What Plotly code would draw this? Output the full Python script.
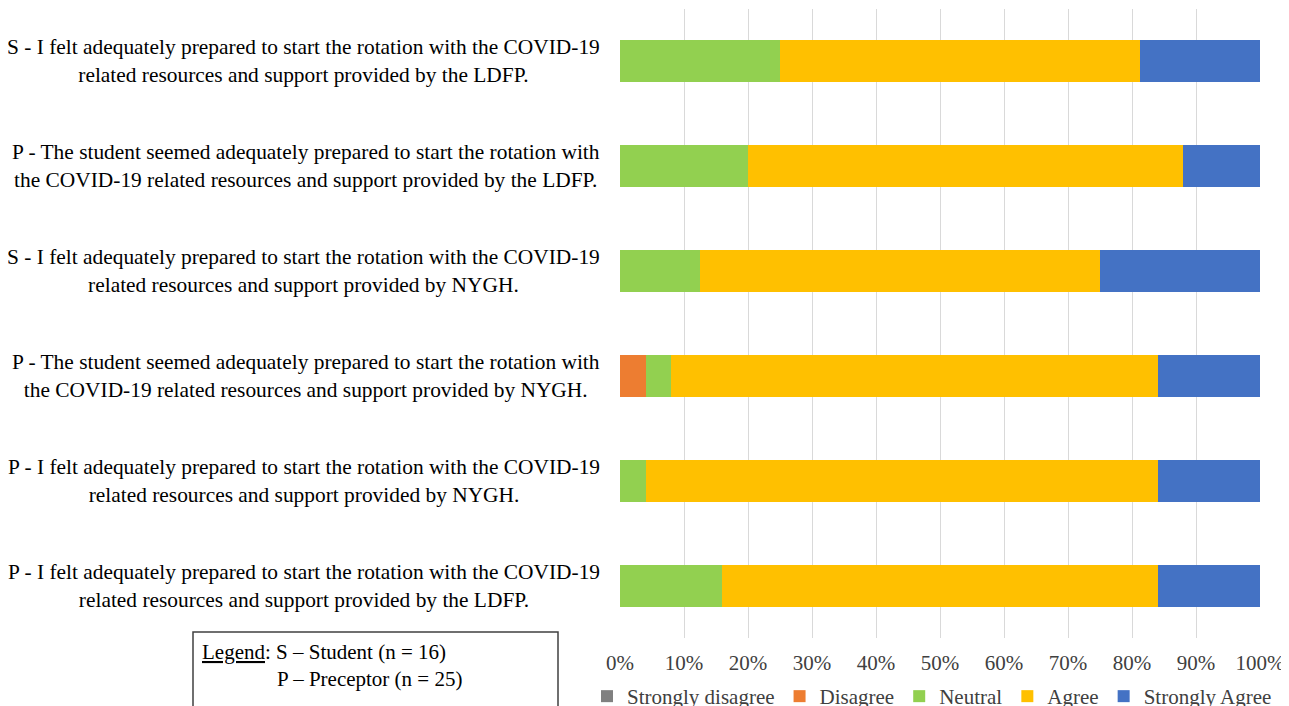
import plotly.graph_objects as go

questions = [
    "S - I felt adequately prepared to start the rotation with the COVID-19<br>related resources and support provided by the LDFP.",
    "P - The student seemed adequately prepared to start the rotation with<br>the COVID-19 related resources and support provided by the LDFP.",
    "S - I felt adequately prepared to start the rotation with the COVID-19<br>related resources and support provided by NYGH.",
    "P - The student seemed adequately prepared to start the rotation with<br>the COVID-19 related resources and support provided by NYGH.",
    "P - I felt adequately prepared to start the rotation with the COVID-19<br>related resources and support provided by NYGH.",
    "P - I felt adequately prepared to start the rotation with the COVID-19<br>related resources and support provided by the LDFP.",
]
keys = ["q1", "q2", "q3", "q4", "q5", "q6"]

strongly_disagree = [0, 0, 0, 0, 0, 0]
disagree = [0, 0, 0, 4, 0, 0]
neutral = [25, 20, 12.5, 4, 4, 16]
agree = [56.25, 68, 62.5, 76, 80, 68]
strongly_agree = [18.75, 12, 25, 16, 16, 16]

series = [
    ("Strongly disagree", strongly_disagree, "#808080"),
    ("Disagree", disagree, "#ED7D31"),
    ("Neutral", neutral, "#92D050"),
    ("Agree", agree, "#FFC000"),
    ("Strongly Agree", strongly_agree, "#4472C4"),
]

FONT = "Liberation Serif, Times New Roman, serif"

fig = go.Figure()
for name, vals, color in series:
    fig.add_trace(go.Bar(
        name=name, y=keys, x=[v / 100 for v in vals], orientation="h",
        marker=dict(color=color, line=dict(width=0)),
    ))

# page body has an 8px margin: the figure starts at screen (8, 8)
OFF = 8
W, H = 1289 - OFF, 706 - OFF
L, R, T, B = 620 - OFF, 29, 9 - OFF, 706 - 638
pw, ph = W - L - R, H - T - B

def px(x):  # screen x -> paper
    return (x - OFF - L) / pw

def py(y):  # screen y -> paper
    return (H - B - (y - OFF)) / ph

annotations = []
for k, q in zip(keys, questions):
    annotations.append(dict(
        x=0, xref="paper", y=k, yref="y", text=q, showarrow=False,
        xanchor="right", yanchor="middle", xshift=-18, align="center",
        font=dict(family=FONT, size=21.4, color="#000000"),
    ))

annotations.append(dict(
    x=px(200), xref="paper", y=py(652), yref="paper",
    text="<u>Legend</u>: S \u2013 Student (n = 16)", showarrow=False,
    xanchor="left", yanchor="middle", align="left",
    font=dict(family=FONT, size=21, color="#000000"),
))
annotations.append(dict(
    x=px(275), xref="paper", y=py(679), yref="paper",
    text="P \u2013 Preceptor (n = 25)", showarrow=False,
    xanchor="left", yanchor="middle", align="left",
    font=dict(family=FONT, size=21, color="#000000"),
))

shapes = [dict(
    type="rect", xref="paper", yref="paper",
    x0=px(193), x1=px(558), y0=py(632), y1=py(725),
    line=dict(color="#404040", width=1.5), fillcolor="rgba(0,0,0,0)",
)]

fig.update_layout(
    width=W, height=H,
    margin=dict(l=L, r=R, t=T, b=B, autoexpand=False),
    barmode="stack", bargap=0.6,
    paper_bgcolor="white", plot_bgcolor="white",
    font=dict(family=FONT, size=21, color="#404040"),
    xaxis=dict(
        range=[0, 1], tickformat=".0%", dtick=0.1, showgrid=True,
        gridcolor="#D9D9D9", gridwidth=1, zeroline=False, showline=False,
        ticks="", ticklabelstandoff=10,
        tickfont=dict(family=FONT, size=21, color="#404040"),
        fixedrange=True, automargin=False,
    ),
    yaxis=dict(
        autorange="reversed", showticklabels=False, showgrid=False,
        showline=False, ticks="", fixedrange=True, automargin=False,
    ),
    showlegend=True,
    legend=dict(
        orientation="h", xref="paper", yref="paper",
        x=px(587), xanchor="left", y=py(676), yanchor="top",
        font=dict(family=FONT, size=21, color="#404040"),
        traceorder="normal", itemwidth=30,
    ),
    annotations=annotations, shapes=shapes,
)

fig.write_html("out.html")
